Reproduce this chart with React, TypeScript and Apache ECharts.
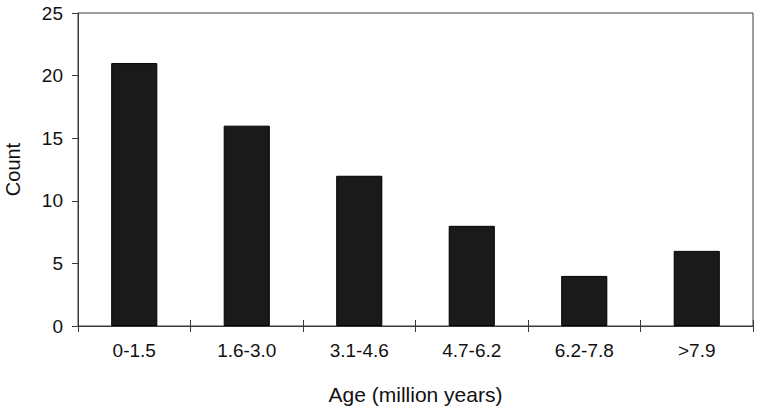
import React, { useEffect, useRef } from "react";
import * as echarts from "echarts";

const categories = ["0-1.5", "1.6-3.0", "3.1-4.6", "4.7-6.2", "6.2-7.8", ">7.9"];
const counts = [21, 16, 12, 8, 4, 6];
const xTitle = "Age (million years)";
const yTitle = "Count";

export default function App() {
  const ref = useRef<HTMLDivElement>(null);
  useEffect(() => {
    if (!ref.current) return;
    const chart = echarts.init(ref.current, null, { renderer: "svg" });
    const font = "'Liberation Sans', Arial, sans-serif";
    const axisColor = "#3a3a3a";
    chart.setOption({
      animation: false,
      backgroundColor: "#ffffff",
      grid: {
        left: 78,
        top: 13,
        right: 7,
        bottom: 86,
        containLabel: false,
        outerBoundsMode: "none",
        show: true,
        borderColor: axisColor,
        borderWidth: 1,
      },
      xAxis: [
        {
          type: "category",
          data: categories,
          name: xTitle,
          nameLocation: "middle",
          nameGap: 58,
          nameTextStyle: { fontFamily: font, fontSize: 21, color: "#111111" },
          axisLine: { lineStyle: { color: axisColor, width: 1 } },
          axisTick: { show: true, alignWithLabel: false, length: 6, lineStyle: { color: axisColor } },
          axisLabel: { fontFamily: font, fontSize: 19, color: "#111111", margin: 15 },
        },
        {
          type: "category",
          data: categories,
          position: "bottom",
          axisLine: { show: false },
          axisTick: { show: true, inside: true, alignWithLabel: false, length: 6, lineStyle: { color: axisColor } },
          axisLabel: { show: false },
        },
      ],
      yAxis: {
        type: "value",
        min: 0,
        max: 25,
        interval: 5,
        name: yTitle,
        nameLocation: "middle",
        nameGap: 55,
        nameTextStyle: { fontFamily: font, fontSize: 20, color: "#111111" },
        splitLine: { show: false },
        axisLine: { show: true, lineStyle: { color: axisColor, width: 1 } },
        axisTick: { show: true, length: 6, lineStyle: { color: axisColor } },
        axisLabel: { fontFamily: font, fontSize: 19, color: "#111111", margin: 15 },
      },
      series: [
        {
          type: "bar",
          xAxisIndex: 0,
          data: counts,
          barWidth: "41%",
          itemStyle: { color: "#1a1a1a", borderColor: "#000000", borderWidth: 1 },
        },
      ],
    });
    return () => chart.dispose();
  }, []);
  return <div ref={ref} style={{ width: 760, height: 412, position: "absolute", left: 0, top: 0 }} />;
}
